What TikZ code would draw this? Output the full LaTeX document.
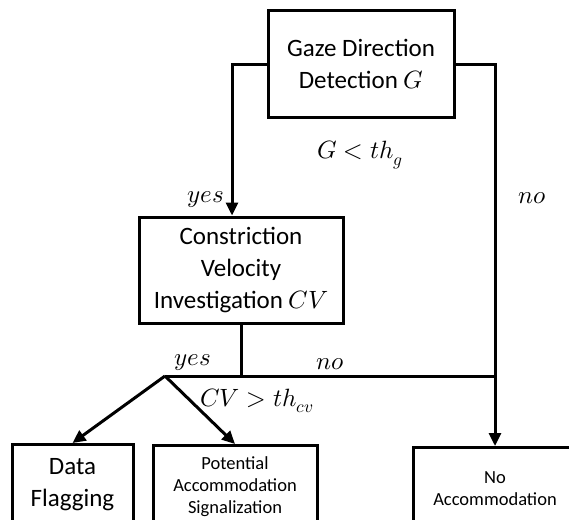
\documentclass[tikz,border=0pt]{standalone}
\usepackage{fontspec}
\usepackage{unicode-math}
\setmainfont{Carlito}
\setmathfont{Latin Modern Math}
\usetikzlibrary{positioning,arrows.meta}
\newcommand{\fMain}{\fontsize{25}{32}\selectfont}
\newcommand{\fSmall}{\fontsize{18.5}{22}\selectfont}

\begin{document}
\begin{tikzpicture}[x=1pt,y=-1pt,
  box/.style={draw,line width=3pt,align=center,inner sep=0pt,minimum height=106pt,font=\fMain},
  leaf/.style={draw,line width=3pt,align=center,inner sep=0pt,anchor=north,minimum height=82pt,font=\fSmall},
  flow/.style={line width=3pt},
  arr/.style={flow,-{Triangle[length=13pt,width=12pt]}},
  lbl/.style={font=\fMain}]
  \useasboundingbox (0,0) rectangle (569,519);
  \clip (0,0) rectangle (569,519);
  \node[box,minimum width=186pt] (gaze) at (361,64) {Gaze Direction\\Detection $G$};
  \node[box,minimum width=204pt] (cv) at (241,270) {Constriction\\Velocity\\Investigation $CV$};
  \node[leaf,minimum width=121pt,minimum height=80pt,font=\fMain] (flag) at (72.5,443) {Data\\Flagging};
  \node[leaf,minimum width=164pt] (pot) at (235,444) {Potential\\Accommodation\\Signalization};
  \node[leaf,minimum width=164pt] (noacc) at (495,446) {No\\Accommodation};
  \coordinate (split) at (165,376);
  % gaze test
  \draw[arr] (gaze.west) -| ([xshift=-9pt]cv.north);
  \draw[arr] (gaze.east) -| (noacc.north);
  % velocity test
  \draw[flow] (cv.south) |- (split);
  \draw[flow] (split) -- (split -| noacc.north);
  \draw[arr] (split) -- (flag.north);
  \draw[arr] (split) -- (pot.north);
  \node[lbl] (cond1) at (360,155) {$G<th_g$};
  \node[lbl] (yes1) at (206,200) {$yes$};
  \node[lbl] (no1) at (532,198) {$no$};
  \node[lbl] (yes2) at (193,363) {$yes$};
  \node[lbl] (no2) at (330,364) {$no$};
  \node[lbl] (cond2) at (257,401) {$CV>th_{cv}$};
\end{tikzpicture}
\end{document}
